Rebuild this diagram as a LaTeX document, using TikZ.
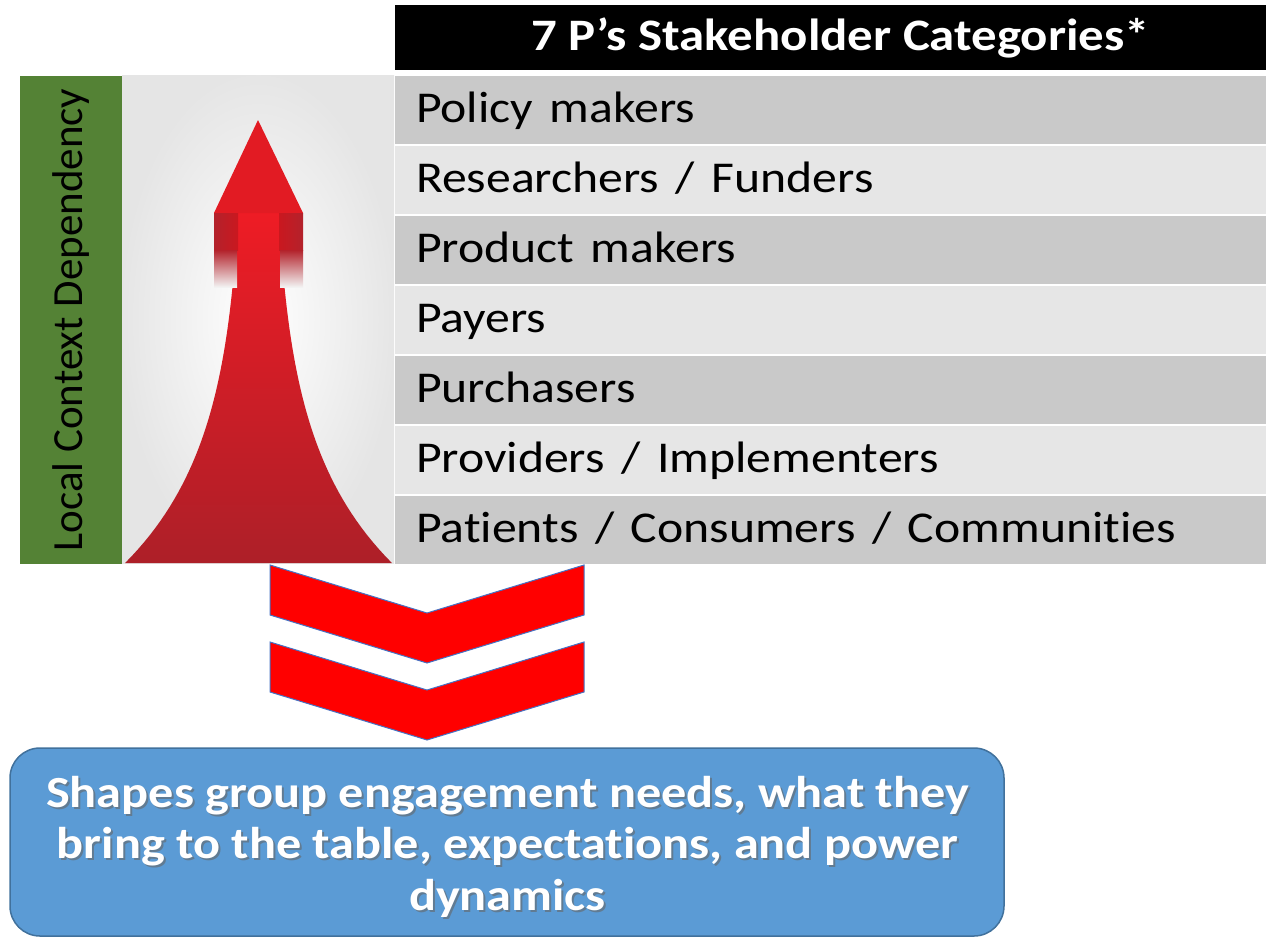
\documentclass[tikz,border=0pt]{standalone}
\usepackage{fontspec}
\setmainfont{Carlito}[Ligatures=NoCommon]
\usepackage{xcolor}
\usepackage{tikz}

\definecolor{rowdark}{HTML}{C9C9C9}
\definecolor{rowlight}{HTML}{E6E6E6}
\definecolor{ctxgreen}{HTML}{548235}
\definecolor{msgblue}{HTML}{5B9BD5}
\definecolor{msgedge}{HTML}{41719C}
\definecolor{chevedge}{HTML}{4472C4}
\definecolor{arrowtop}{HTML}{EE1C25}
\definecolor{arrowbot}{HTML}{AD1F28}
\definecolor{arrowdark}{HTML}{B3222B}
\newcommand{\wide}[1]{\scalebox{1.13}[1]{#1}}

\begin{document}
\begin{tikzpicture}
    [x=1pt,y=-1pt,
    head/.style={shape=rectangle,fill=black,text=white,minimum width=871pt,minimum height=65pt,font=\fontsize{45}{52}\selectfont\bfseries,text height=35pt,text depth=10pt},
    row/.style={shape=rectangle,minimum height=68pt,text width=829pt,inner xsep=21pt,align=left,font=\fontsize{44}{52}\selectfont,text height=34pt,text depth=10pt},
    ctx/.style={shape=rectangle,fill=ctxgreen,rotate=90,minimum width=488pt,minimum height=102pt,font=\fontsize{43}{50}\selectfont},
    chevron/.style={fill=red,draw=chevedge,line width=1pt},
    msgbox/.style={shape=rectangle,rounded corners=30pt,fill=msgblue,draw=msgedge,line width=1.5pt,minimum width=994pt,minimum height=188pt},
    msgtext/.style={font=\fontsize{44.5}{51.5}\selectfont\bfseries,text=white,inner sep=0pt}]

    \useasboundingbox (0,0) rectangle (1266,937);

    % header and the seven rows
    \node (head) [head] at (830.5,37.5) {\hspace*{20pt}\wide{7 P’s Stakeholder Categories*}};
    \node (r1) [row,fill=rowdark] at (830.5,110) {\wide{Policy makers}};
    \node (r2) [row,fill=rowlight] at (830.5,180) {\wide{Researchers / Funders}};
    \node (r3) [row,fill=rowdark] at (830.5,250) {\wide{Product makers}};
    \node (r4) [row,fill=rowlight] at (830.5,320) {\wide{Payers}};
    \node (r5) [row,fill=rowdark] at (830.5,390) {\wide{Purchasers}};
    \node (r6) [row,fill=rowlight] at (830.5,460) {\wide{Providers / Implementers}};
    \node (r7) [row,fill=rowdark] at (830.5,530) {\wide{Patients / Consumers / Communities}};

    % side bar
    \node (ctx) [ctx] at (71,320) {Local Context Dependency};

    % arrow panel
    \shade[inner color=white,outer color=black!10] (122,75) rectangle (394,563);
    \shade[top color=arrowtop,bottom color=arrowbot]
      plot[domain=563:213,samples=50,variable=\t] ({272.54+6.46*exp((\t-213)/120)},\t)
      -- plot[domain=213:563,samples=50,variable=\t] ({244.46-6.46*exp((\t-213)/120)},\t) -- cycle;
    \fill[arrowtop!95!black] (258,120) -- (303,213) -- (214,213) -- cycle;
    \shade[left color=arrowdark,right color=arrowtop!85!black] (214,213) rectangle (238,250);
    \shade[left color=arrowtop!85!black,right color=arrowdark] (279,213) rectangle (303,250);
    \shade[top color=arrowdark,bottom color=white!95!black] (214,250) rectangle (237,287);
    \shade[top color=arrowdark,bottom color=white!95!black] (280,250) rectangle (303,287);

    % chevrons
    \filldraw[chevron] (270,565) -- (427,613) -- (584,565) -- (584,615) -- (427,663) -- (270,615) -- cycle;
    \filldraw[chevron] (270,642) -- (427,690) -- (584,642) -- (584,692) -- (427,740) -- (270,692) -- cycle;

    % result box
    \node (msgbox) [msgbox] at (507,842) {};
    \node (msgshadow) [msgtext,text=black!60,opacity=0.6] at (509.5,850.5) {\wide{\begin{tabular}{@{}c@{}}Shapes group engagement needs, what they\\bring to the table, expectations, and power\\dynamics\end{tabular}}};
    \node (msg) [msgtext] at (507.5,848.5) {\wide{\begin{tabular}{@{}c@{}}Shapes group engagement needs, what they\\bring to the table, expectations, and power\\dynamics\end{tabular}}};

  \end{tikzpicture}
\end{document}
